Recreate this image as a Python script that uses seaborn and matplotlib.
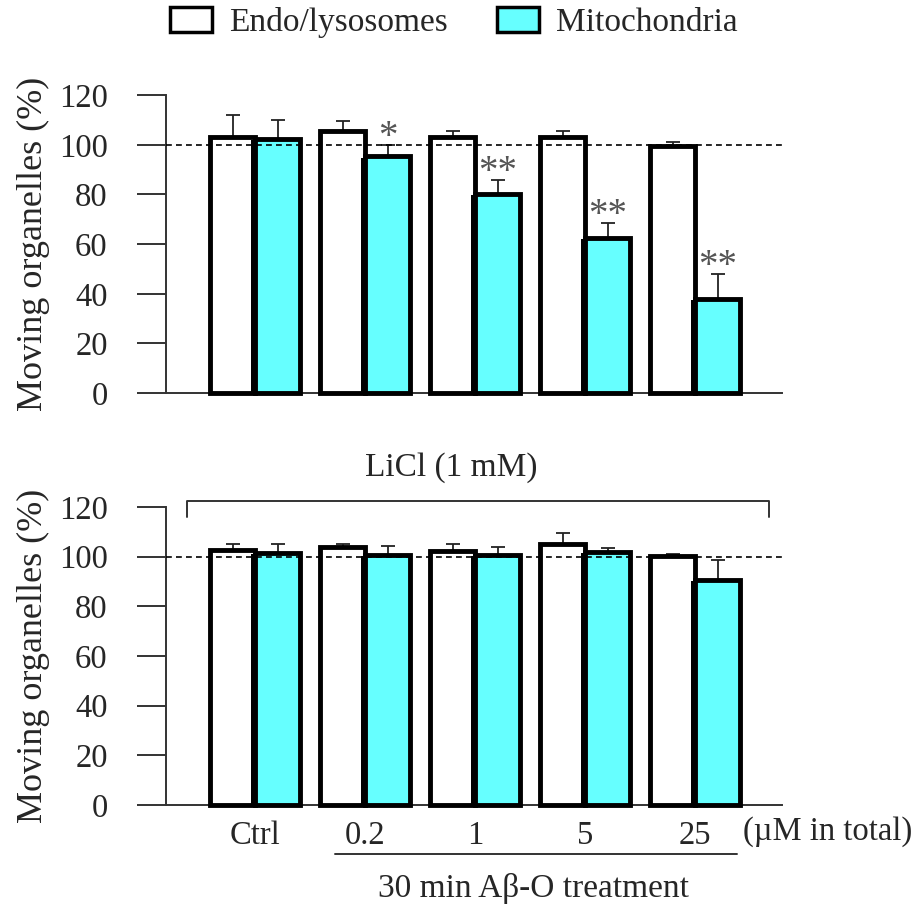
import numpy as np
import pandas as pd
import seaborn as sns
import matplotlib.pyplot as plt
import matplotlib.patheffects as pe
from matplotlib.patches import Patch

doses = ['Ctrl', '0.2', '1', '5', '25']
organelles = ['Endo/lysosomes', 'Mitochondria']

# top panel (no LiCl)
top_endo = [103, 105.5, 103, 103, 99.5]
top_endo_err = [9, 4, 2.5, 2.5, 1.5]
top_mito = [102.5, 95.3, 80.3, 62.6, 38]
top_mito_err = [7.5, 4.7, 5.5, 6, 10]
top_stars = ['', '*', '**', '**', '**']

# bottom panel (LiCl 1 mM)
bot_endo = [102.7, 104, 102.1, 105.2, 100.1]
bot_endo_err = [2.5, 1, 3, 4.3, 0.8]
bot_mito = [101.6, 100.7, 100.7, 101.9, 90.6]
bot_mito_err = [3.6, 3.7, 3, 1.6, 8]

colors = ['white', '#66FFFF']
serif = 'Liberation Serif'

sns.set_style('white')
plt.rcParams['font.family'] = [serif, 'DejaVu Serif']
plt.rcParams['font.size'] = 23.5


def make_df(endo, mito):
    return pd.DataFrame({
        'dose': doses * 2,
        'organelle': [organelles[0]] * len(doses) + [organelles[1]] * len(doses),
        'value': list(endo) + list(mito),
    })


def bar_panel(ax, endo, endo_err, mito, mito_err, stars=None):
    df = make_df(endo, mito)
    sns.barplot(data=df, x='dose', y='value', hue='organelle', order=doses,
                hue_order=organelles, palette=colors, saturation=1, width=0.82,
                edgecolor='black', linewidth=3.5, errorbar=None,
                legend=False, ax=ax, zorder=3)

    for cont, err in zip(ax.containers, [endo_err, mito_err]):
        xs = [b.get_x() + b.get_width() / 2 for b in cont]
        hs = [b.get_height() for b in cont]
        ax.errorbar(xs, hs, yerr=[np.zeros(len(err)), err], fmt='none',
                    ecolor='#222222', elinewidth=1.3, capsize=4.7,
                    capthick=1.3, zorder=2)
        for b in cont:
            b.set_clip_on(False)

    # dark shadow on the left of the cyan bars
    for b in ax.containers[1]:
        b.set_path_effects([pe.SimplePatchShadow(offset=(-3, -1),
                                                 shadow_rgbFace='black', alpha=1),
                            pe.Normal()])

    if stars:
        for b, err, s in zip(ax.containers[1], mito_err, stars):
            if s:
                ax.text(b.get_x() + b.get_width() / 2, b.get_height() + err + 3, s,
                        ha='center', va='center', fontsize=28, color='#555555')

    ax.axhline(100, ls=(0, (3.5, 2.5)), lw=1.2, color='black', zorder=6)

    ax.set_ylim(0, 120)
    ax.set_xlim(-0.81, 4.79)
    ax.set_yticks(range(0, 121, 20))
    ax.set_ylabel('Moving organelles (%)', fontsize=26, labelpad=6)
    ax.set_xlabel('')
    sns.despine(ax=ax, top=True, right=True)
    for sp in ['left', 'bottom']:
        ax.spines[sp].set_linewidth(1.4)
        ax.spines[sp].set_color('#333333')
    ax.tick_params(axis='y', left=True, direction='out', length=21, width=1.4,
                   color='#333333', pad=21, labelsize=23.5)
    ax.tick_params(axis='x', bottom=False, length=0, pad=11, labelsize=23.5)


fig = plt.figure(figsize=(9.17, 9.10), dpi=100)
ax_top = fig.add_axes([0.181, 0.568, 0.672, 0.3275])
ax_bot = fig.add_axes([0.181, 0.1154, 0.672, 0.3275])

bar_panel(ax_top, top_endo, top_endo_err, top_mito, top_mito_err, top_stars)
ax_top.set_xticklabels([])

bar_panel(ax_bot, bot_endo, bot_endo_err, bot_mito, bot_mito_err)

# LiCl bracket
ax_bot.plot([0.034, 0.034, 0.979, 0.979], [0.966, 1.02, 1.02, 0.966],
            transform=ax_bot.transAxes, color='#333333', lw=1.4, clip_on=False)
ax_bot.text(0.463, 1.131, 'LiCl (1 mM)', transform=ax_bot.transAxes,
            ha='center', va='center', fontsize=24)

# treatment annotation under x axis
ax_bot.text(0.937, -0.0906, '(µM in total)', transform=ax_bot.transAxes,
            ha='left', va='center', fontsize=23.5)
ax_bot.plot([0.274, 0.927], [-0.164, -0.164], transform=ax_bot.transAxes,
            color='#333333', lw=1.4, clip_on=False)
ax_bot.text(0.596, -0.279, '30 min Aβ-O treatment', transform=ax_bot.transAxes,
            ha='center', va='center', fontsize=24)

handles = [Patch(facecolor=c, edgecolor='black', linewidth=2.5) for c in colors]
fig.legend(handles, organelles, loc='center', bbox_to_anchor=(0.495, 0.975),
           ncol=2, frameon=False, fontsize=24, handlelength=1.25,
           handleheight=0.75, handletextpad=0.5, columnspacing=1.5)

fig.savefig('out.png', dpi=100)
